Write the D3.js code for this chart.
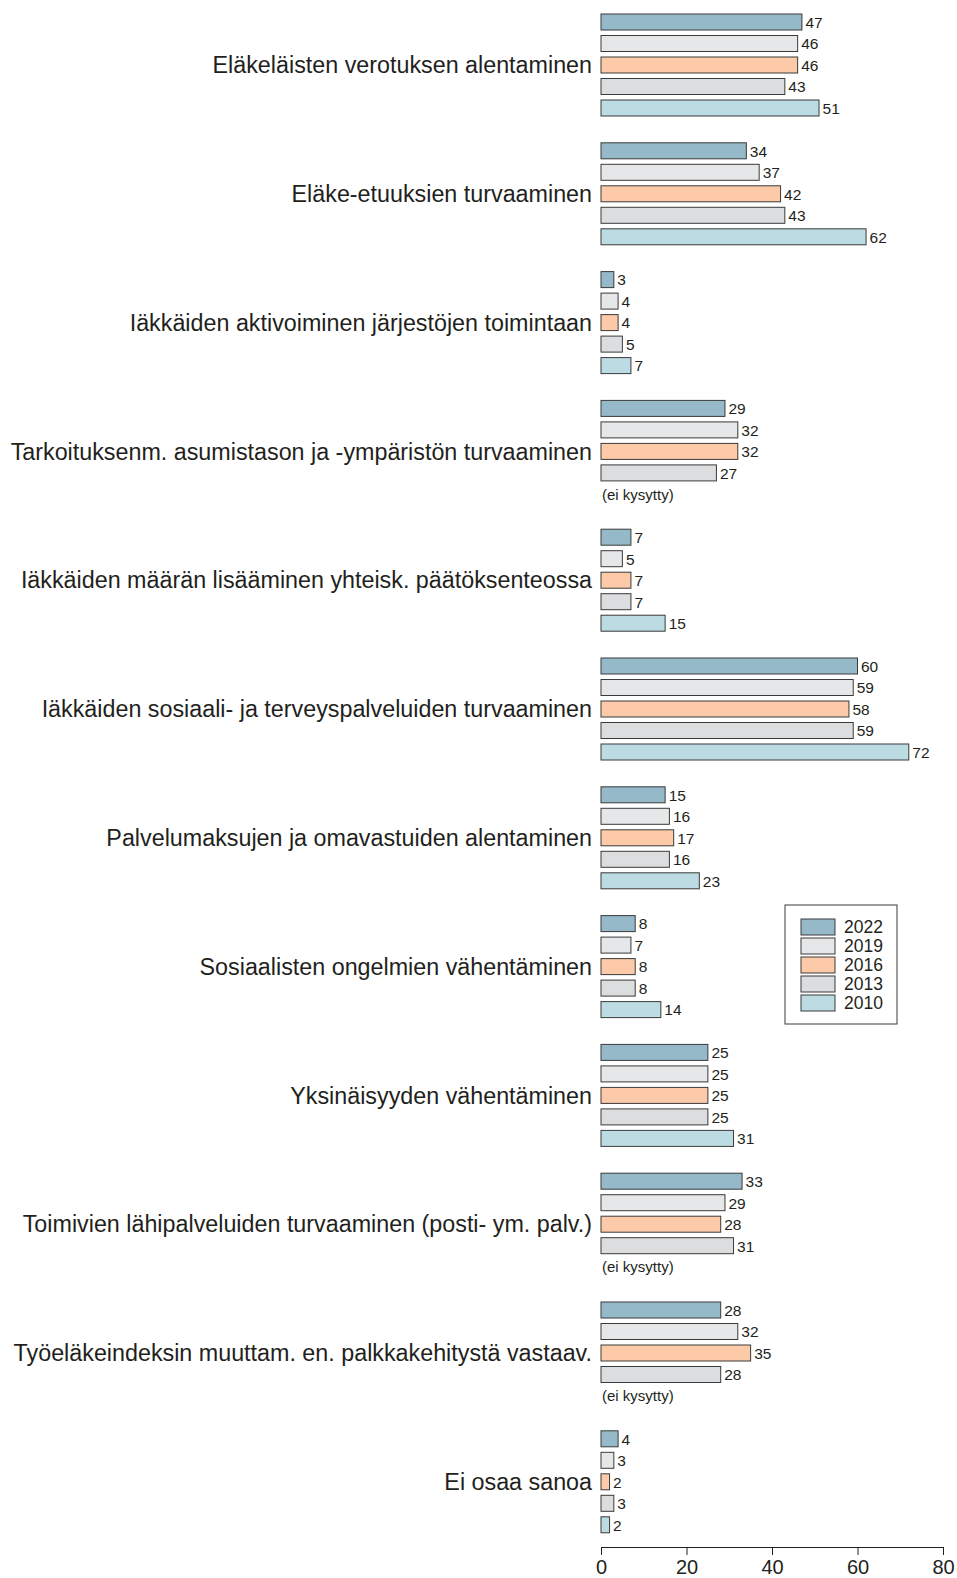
<!DOCTYPE html>
<html><head><meta charset="utf-8">
<script src="https://cdn.jsdelivr.net/npm/d3@7"></script>
<style>body{margin:0;background:#fff;} text{font-family:"Liberation Sans",Arial,sans-serif;fill:#231f20;}</style>
</head><body>
<svg id="c" width="957" height="1578"></svg>
<script>
const categories = [
  "Eläkeläisten verotuksen alentaminen",
  "Eläke-etuuksien turvaaminen",
  "Iäkkäiden aktivoiminen järjestöjen toimintaan",
  "Tarkoituksenm. asumistason ja -ympäristön turvaaminen",
  "Iäkkäiden määrän lisääminen yhteisk. päätöksenteossa",
  "Iäkkäiden sosiaali- ja terveyspalveluiden turvaaminen",
  "Palvelumaksujen ja omavastuiden alentaminen",
  "Sosiaalisten ongelmien vähentäminen",
  "Yksinäisyyden vähentäminen",
  "Toimivien lähipalveluiden turvaaminen (posti- ym. palv.)",
  "Työeläkeindeksin muuttam. en. palkkakehitystä vastaav.",
  "Ei osaa sanoa"
];
const years = ["2022","2019","2016","2013","2010"];
const v2022 = [47,34,3,29,7,60,15,8,25,33,28,4];
const v2019 = [46,37,4,32,5,59,16,7,25,29,32,3];
const v2016 = [46,42,4,32,7,58,17,8,25,28,35,2];
const v2013 = [43,43,5,27,7,59,16,8,25,31,28,3];
const v2010 = [51,62,7,null,15,72,23,14,31,null,null,2];
const xTicks = [0,20,40,60,80];
const notAsked = "(ei kysytty)";
const colors = ["#95b9c8","#e6e7e8","#fccaa8","#dcdddf","#bddbe2"];

const series = [v2022,v2019,v2016,v2013,v2010];
const svg = d3.select("#c");
const x = d3.scaleLinear().domain([0,80]).range([601,943]);
const yG = d3.scaleBand().domain(categories).range([14, 14+12*128.8]);
const yI = d3.scaleBand().domain(years).range([0,102]).paddingInner(5.5/21.5);
const color = d3.scaleOrdinal().domain(years).range(colors);

const g = svg.selectAll("g.grp").data(categories).join("g")
  .attr("class","grp").attr("transform", d=>`translate(0,${yG(d)})`);

g.append("text").attr("x",592).attr("y",yI.range()[1]/2).attr("dy","0.35em")
  .attr("text-anchor","end").style("font-size","23.3px").text(d=>d);

g.each(function(cat, ci){
  const gg = d3.select(this);
  years.forEach((yr, si)=>{
    const v = series[si][ci];
    if (v === null) {
      gg.append("text").attr("x",x(0)+1).attr("y",yI(yr)+yI.bandwidth()/2).attr("dy","0.35em")
        .style("font-size","15px").text(notAsked);
      return;
    }
    gg.append("rect").attr("x",x(0)).attr("y",yI(yr))
      .attr("width",x(v)-x(0)).attr("height",yI.bandwidth())
      .attr("fill",color(yr)).attr("stroke","#3a3a3a").attr("stroke-width",1);
    gg.append("text").attr("x",x(v)+3.5).attr("y",yI(yr)+yI.bandwidth()/2).attr("dy","0.38em")
      .style("font-size","15.5px").text(v);
  });
});

const axisY = 1547;
const ax = svg.append("g").attr("transform",`translate(0,${axisY})`)
  .call(d3.axisBottom(x).tickValues(xTicks).tickSize(8).tickPadding(5).tickSizeOuter(0));
ax.select(".domain").attr("stroke","#231f20");
ax.selectAll(".tick line").attr("stroke","#231f20");
ax.selectAll(".tick text").style("font-size","20px").style("font-family","Liberation Sans, Arial, sans-serif").attr("fill","#231f20");

// legend
const lg = svg.append("g");
lg.append("rect").attr("x",785).attr("y",905).attr("width",112).attr("height",119)
  .attr("fill","#fff").attr("stroke","#3a3a3a");
years.forEach((yr,i)=>{
  const yy = 919 + i*19;
  lg.append("rect").attr("x",801).attr("y",yy).attr("width",34).attr("height",16)
    .attr("fill",color(yr)).attr("stroke","#3a3a3a");
  lg.append("text").attr("x",844).attr("y",yy+8).attr("dy","0.36em")
    .style("font-size","17.5px").text(yr);
});
</script>
</body></html>
